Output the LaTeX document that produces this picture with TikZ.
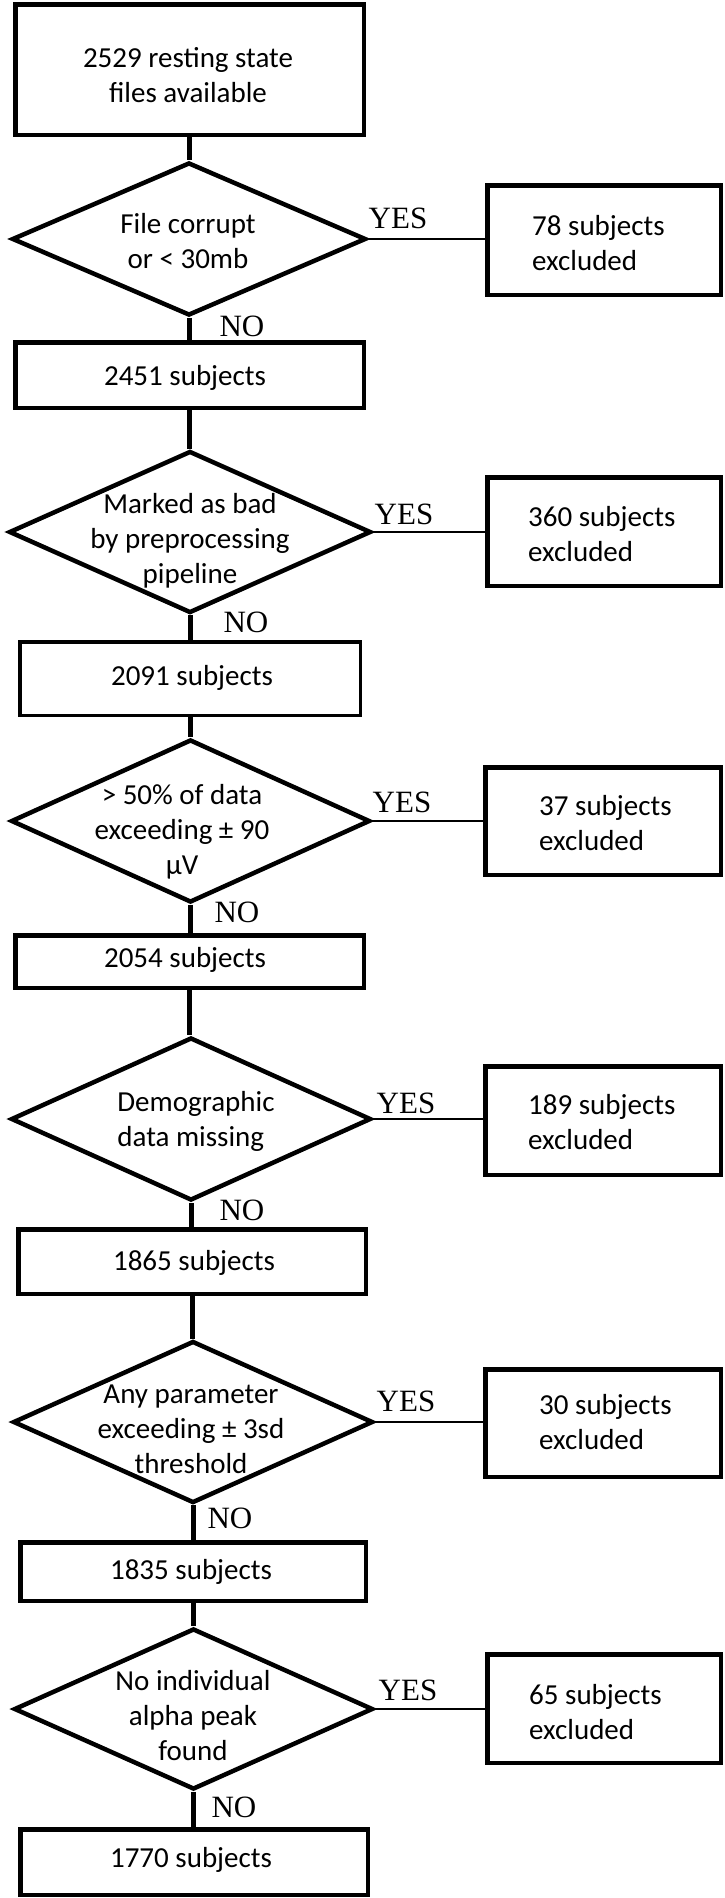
\documentclass[tikz,border=0pt]{standalone}
\usepackage{fontspec}
\setmainfont{Carlito}
\newfontfamily\tnr{Liberation Serif}
\usetikzlibrary{shapes.geometric}
\begin{document}
\begin{tikzpicture}[x=1pt,y=-1pt,
  box/.style={draw, line width=4.5pt, rectangle, inner sep=0pt},
  thinbox/.style={box, line width=3.5pt},
  dia/.style={draw, line width=4.5pt, diamond, inner sep=0pt, line join=miter},
  txt/.style={font=\fontsize{29}{35}\selectfont, align=center, inner sep=0pt},
  ltxt/.style={font=\fontsize{29}{35}\selectfont, align=left, inner sep=0pt, anchor=west},
  yn/.style={font=\tnr\fontsize{31}{31}\selectfont, inner sep=0pt},
  vline/.style={line width=5pt},
  hline/.style={line width=1.5pt}]
\useasboundingbox (0,0) rectangle (725,1898);

% left column boxes
\node[box, minimum width=348.5pt, minimum height=130.5pt] (B0) at (189.5,69.5) {};
\node[box, minimum width=348.5pt, minimum height=65.5pt] (B1) at (189.5,375) {};
\node[thinbox, minimum width=340.5pt, minimum height=73.5pt] (B2) at (190,678.5) {};
\node[box, minimum width=348.5pt, minimum height=52.5pt] (B3) at (189.5,961.5) {};
\node[box, minimum width=347.5pt, minimum height=64.5pt] (B4) at (192,1261.5) {};
\node[box, minimum width=345.5pt, minimum height=58.5pt] (B5) at (193,1571.5) {};
\node[box, minimum width=347.5pt, minimum height=65.5pt] (B6) at (194,1862) {};

\node[txt] (T0) at (188,75) {2529 resting state\\files available};
\node[txt] (T1) at (185,378) {2451 subjects};
\node[txt] (T2) at (192,678) {2091 subjects};
\node[txt] (T3) at (185,960) {2054 subjects};
\node[txt] (T4) at (194,1263) {1865 subjects};
\node[txt] (T5) at (191,1572) {1835 subjects};
\node[txt] (T6) at (191,1860) {1770 subjects};

% diamonds
\node[dia, minimum width=354pt, minimum height=153pt] (D1) at (189,239) {};
\node[dia, minimum width=362pt, minimum height=162pt] (D2) at (190,532) {};
\node[dia, minimum width=359pt, minimum height=163pt] (D3) at (190.5,821) {};
\node[dia, minimum width=360pt, minimum height=163pt] (D4) at (191,1119) {};
\node[dia, minimum width=360pt, minimum height=162pt] (D5) at (193,1422) {};
\node[dia, minimum width=359pt, minimum height=161pt] (D6) at (193.5,1709) {};

\node[txt] (Q1) at (188,241) {File corrupt\\or < 30mb};
\node[txt] (Q2) at (190,541) {Marked as bad\\by preprocessing\\pipeline};
\node[txt] (Q3) at (182,832) {> 50\% of data\\exceeding ± 90\\μV};
\node[txt, align=left] (Q4) at (196,1121) {Demographic\\data missing};
\node[txt] (Q5) at (191,1429) {Any parameter\\exceeding ± 3sd\\threshold};
\node[txt] (Q6) at (193,1716) {No individual\\alpha peak\\found};

% right boxes
\node[box, minimum width=233.5pt, minimum height=109.5pt] (R1) at (604,240) {};
\node[box, minimum width=233.5pt, minimum height=108.5pt] (R2) at (604,531.5) {};
\node[box, minimum width=235.5pt, minimum height=107.5pt] (R3) at (603,821) {};
\node[box, minimum width=235.5pt, minimum height=108.5pt] (R4) at (603,1120.5) {};
\node[box, minimum width=235.5pt, minimum height=107.5pt] (R5) at (603,1423) {};
\node[box, minimum width=233.5pt, minimum height=108.5pt] (R6) at (604,1708.5) {};

\node[ltxt] (E1) at (532,243) {78 subjects\\excluded};
\node[ltxt] (E2) at (528,534) {360 subjects\\excluded};
\node[ltxt] (E3) at (539,823) {37 subjects\\excluded};
\node[ltxt] (E4) at (528,1122) {189 subjects\\excluded};
\node[ltxt] (E5) at (539,1422) {30 subjects\\excluded};
\node[ltxt] (E6) at (529,1712) {65 subjects\\excluded};

% vertical connectors
\draw[vline] (B0.south) -- (B0.south |- D1.north);
\draw[vline] (D1.south) -- (D1.south |- B1.north);
\draw[vline] (B1.south) -- (B1.south |- D2.north);
\draw[vline] (D2.south) -- (D2.south |- B2.north);
\draw[vline] (B2.south) -- (B2.south |- D3.north);
\draw[vline] (D3.south) -- (D3.south |- B3.north);
\draw[vline] (B3.south) -- (B3.south |- D4.north);
\draw[vline] (D4.south) -- (D4.south |- B4.north);
\draw[vline] (B4.south) -- (B4.south |- D5.north);
\draw[vline] (D5.south) -- (D5.south |- B5.north);
\draw[vline] (B5.south) -- (B5.south |- D6.north);
\draw[vline] (D6.south) -- (D6.south |- B6.north);

% YES connectors
\draw[hline] (D1.east) -- (D1.east -| R1.west);
\draw[hline] (D2.east) -- (D2.east -| R2.west);
\draw[hline] (D3.east) -- (D3.east -| R3.west);
\draw[hline] (D4.east) -- (D4.east -| R4.west);
\draw[hline] (D5.east) -- (D5.east -| R5.west);
\draw[hline] (D6.east) -- (D6.east -| R6.west);

% labels
\node[yn] (Y1) at (398,218) {YES};
\node[yn] (Y2) at (404,514) {YES};
\node[yn] (Y3) at (402,802) {YES};
\node[yn] (Y4) at (406,1103) {YES};
\node[yn] (Y5) at (406,1401) {YES};
\node[yn] (Y6) at (408,1690) {YES};

\node[yn] (N1) at (242,326) {NO};
\node[yn] (N2) at (246,622) {NO};
\node[yn] (N3) at (237,912) {NO};
\node[yn] (N4) at (242,1210) {NO};
\node[yn] (N5) at (230,1518) {NO};
\node[yn] (N6) at (234,1807) {NO};
\end{tikzpicture}
\end{document}
